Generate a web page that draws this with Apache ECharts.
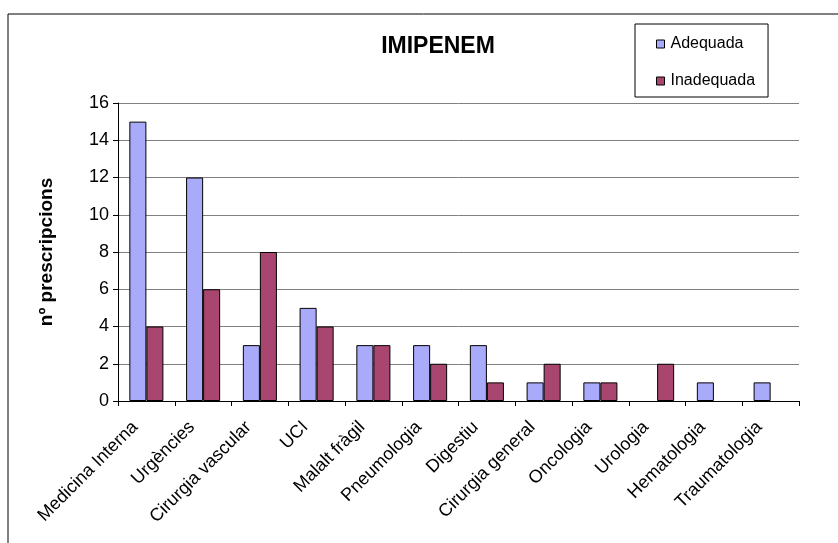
<!DOCTYPE html>
<html>
<head>
<meta charset="utf-8">
<script src="https://cdn.jsdelivr.net/npm/echarts@6/dist/echarts.min.js"></script>
<style>
  html, body { margin: 0; padding: 0; background: #fff; }
  #chart { width: 838px; height: 543px; }
</style>
</head>
<body>
<div id="chart"></div>
<script>
// servei + prescripcions
var serveis = ['Medicina Interna', 'Urgències', 'Cirurgia vascular', 'UCI', 'Malalt fràgil',
  'Pneumologia', 'Digestiu', 'Cirurgia general', 'Oncologia', 'Urologia', 'Hematologia', 'Traumatologia'];
var adequada = [15, 12, 3, 5, 3, 3, 3, 1, 1, 0, 1, 1];
var inadequada = [4, 6, 8, 4, 3, 2, 1, 2, 1, 2, 0, 0];

// zero bars: no border line
function barData(arr){
  return arr.map(function (v) {
    return v === 0 ? { value: 0, itemStyle: { borderWidth: 0 } } : v;
  });
}

var myChart = echarts.init(document.getElementById('chart'));

var option = {
  animation: false,
  textStyle: { fontFamily: 'Liberation Sans, Arial, sans-serif' },
  title: {
    text: 'IMIPENEM',
    left: 433,
    top: 30,
    textAlign: 'center',
    textStyle: { fontSize: 23, fontWeight: 'bold', color: '#000' }
  },
  legend: {
    orient: 'vertical',
    left: 635,
    top: 24,
    padding: [12, 13, 8, 21],
    itemGap: 21,
    itemWidth: 8,
    itemHeight: 8,
    borderColor: '#000',
    borderWidth: 1,
    icon: 'rect',
    itemStyle: { borderColor: '#000', borderWidth: 1 },
    textStyle: { fontSize: 16, color: '#000', padding: [0, 0, 0, 1] },
    data: ['Adequada', 'Inadequada']
  },
  graphic: [{
    type: 'rect',
    shape: { x: 8, y: 14, width: 840, height: 540 },
    style: { fill: 'none', stroke: '#000', lineWidth: 1 },
    silent: true
  }],
  grid: { left: 118, right: 39, top: 103, bottom: 142 },
  xAxis: {
    type: 'category',
    data: serveis,
    axisLine: { lineStyle: { color: '#000' } },
    axisTick: { show: true, length: 5, lineStyle: { color: '#000' } },
    axisLabel: { rotate: 45, fontSize: 18, color: '#000', margin: 12, interval: 0, padding: [0, 16, 0, 0] }
  },
  yAxis: {
    type: 'value',
    min: 0,
    max: 16,
    interval: 2,
    name: 'nº prescripcions',
    nameLocation: 'middle',
    nameGap: 62,
    nameTextStyle: { fontSize: 19, fontWeight: 'bold', color: '#000' },
    axisLine: { show: true, lineStyle: { color: '#000' } },
    axisTick: { show: true, length: 5, lineStyle: { color: '#000' } },
    axisLabel: { fontSize: 18, color: '#000', margin: 9 },
    splitLine: { lineStyle: { color: '#808080', width: 1 } }
  },
  series: [{
    name: 'Adequada',
    type: 'bar',
    data: barData(adequada),
    barGap: '0%',
    barCategoryGap: '40%',
    itemStyle: { color: '#AAAAFA', borderColor: '#000', borderWidth: 1 }
  }, {
    name: 'Inadequada',
    type: 'bar',
    data: barData(inadequada),
    itemStyle: { color: '#A8466F', borderColor: '#000', borderWidth: 1 }
  }]
};

myChart.setOption(option);
</script>
</body>
</html>
